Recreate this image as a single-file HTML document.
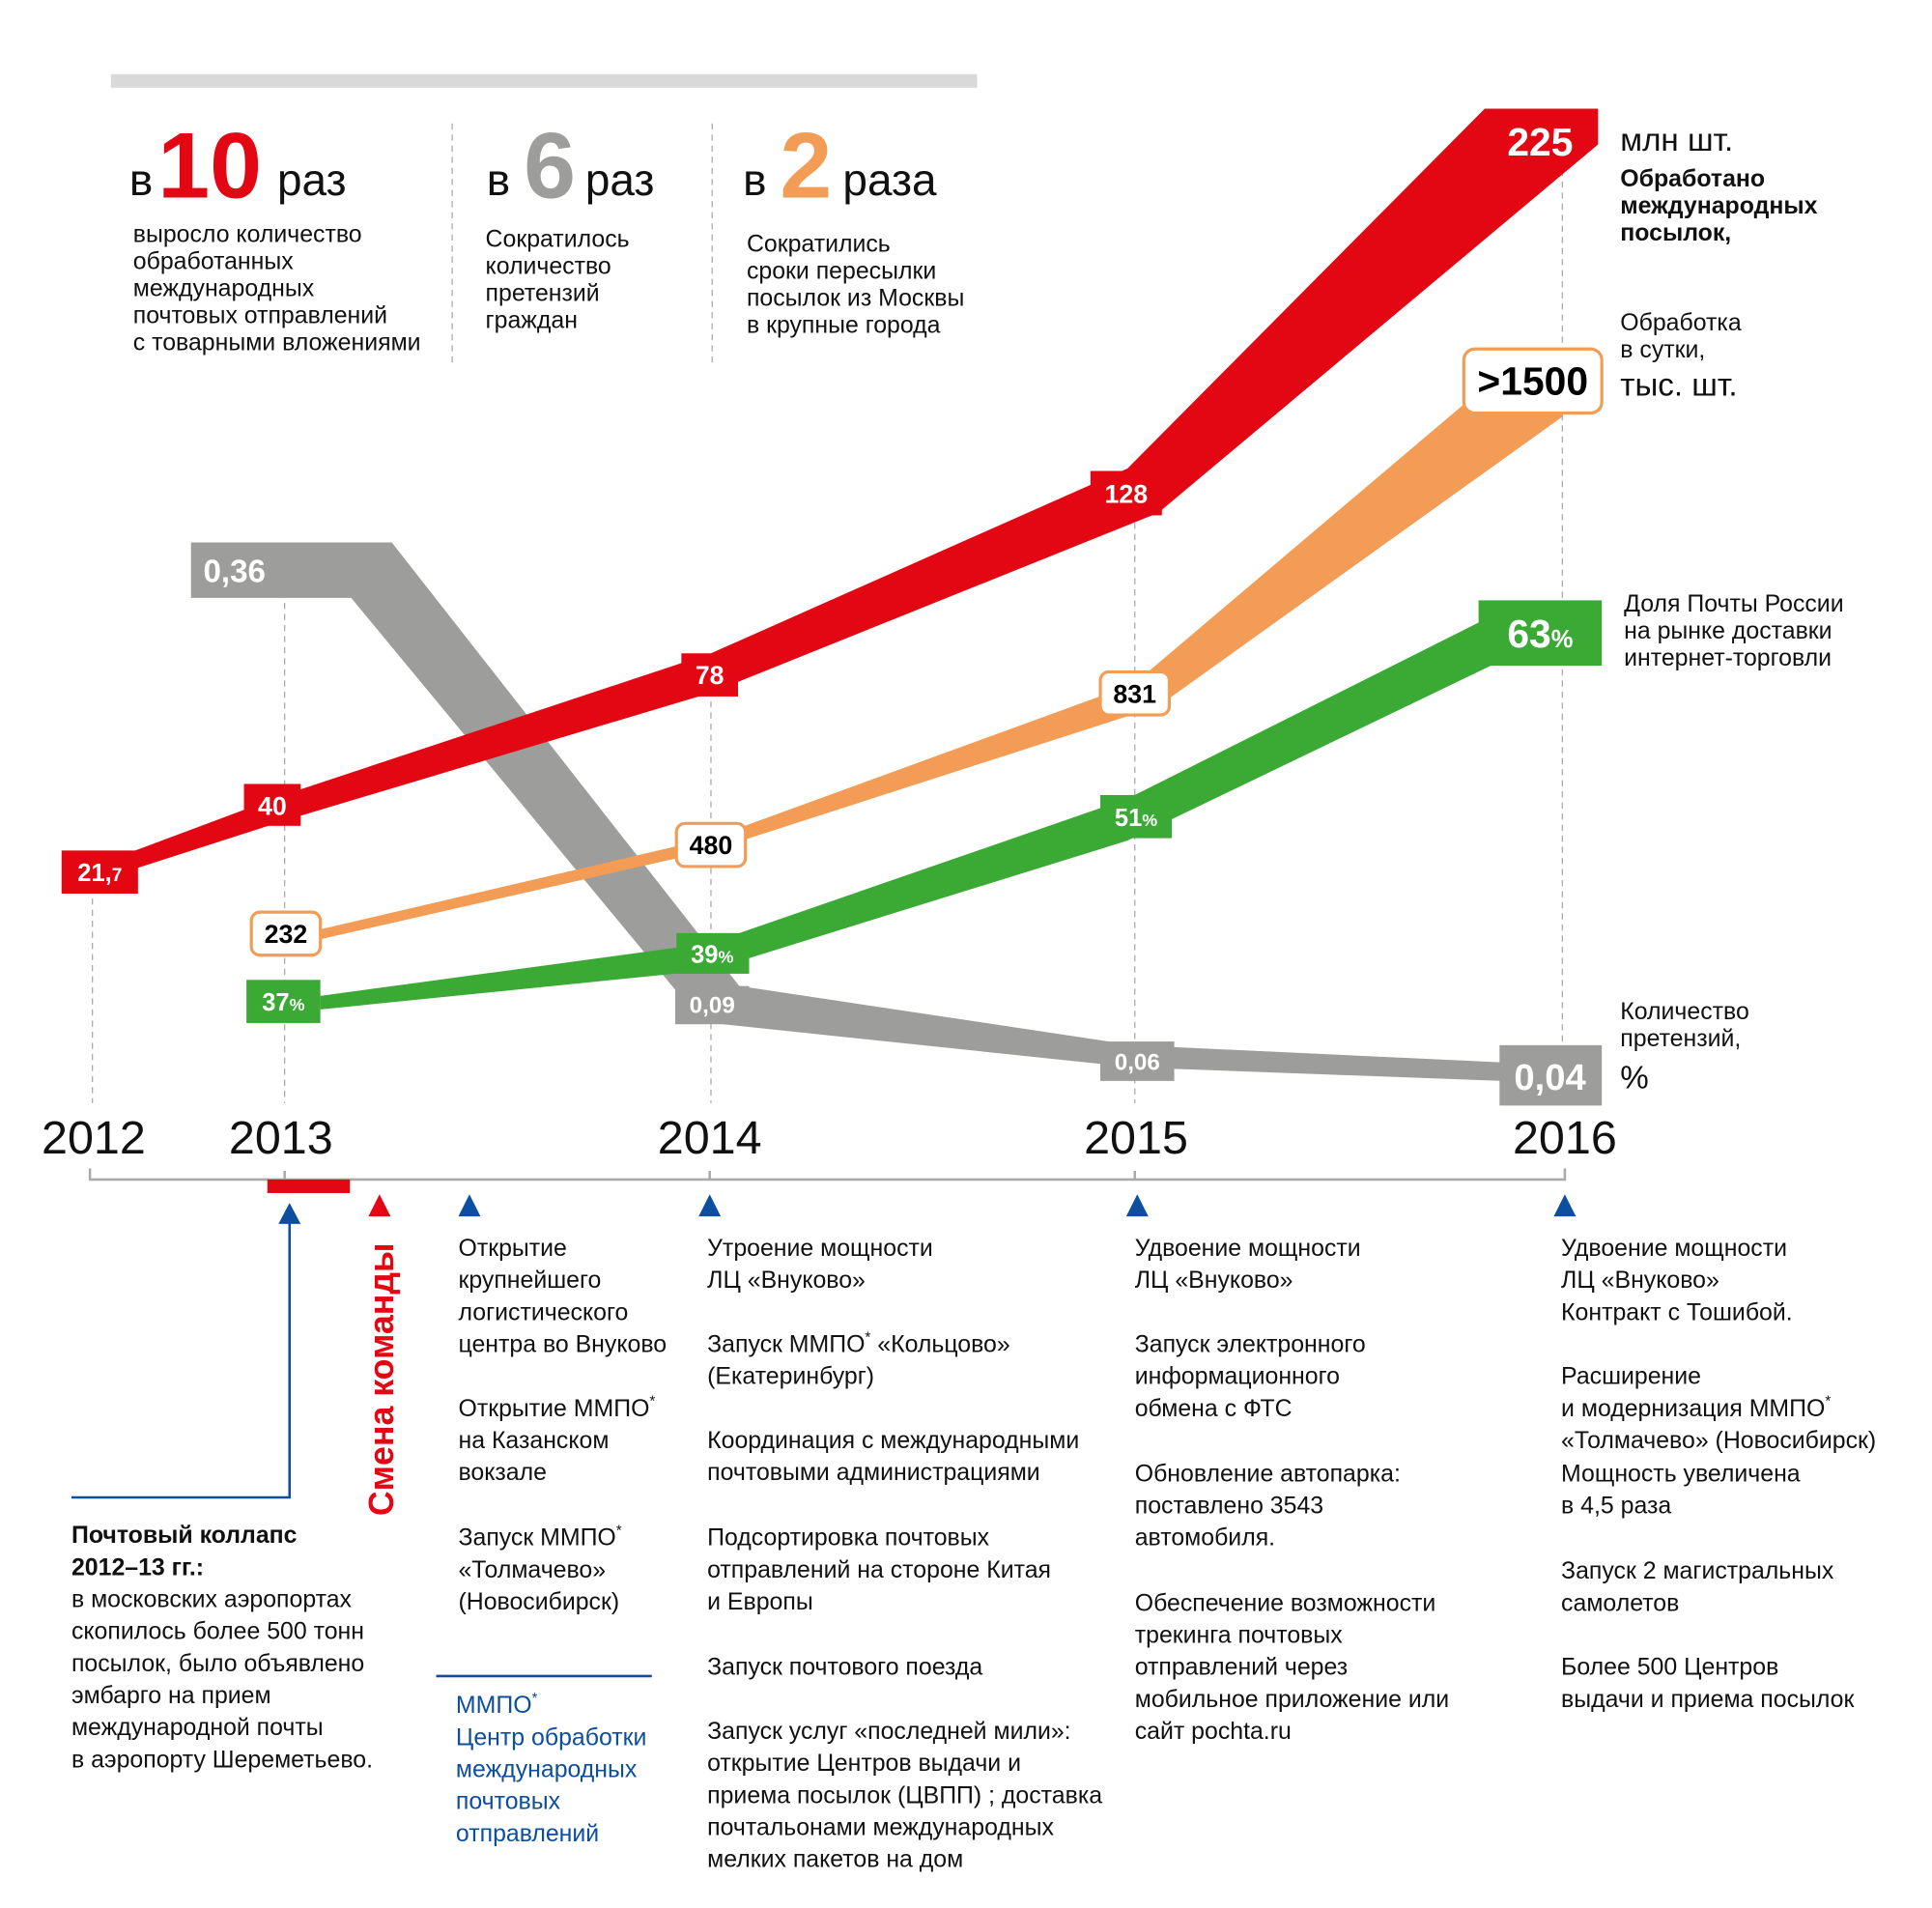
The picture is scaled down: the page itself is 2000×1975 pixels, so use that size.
<!DOCTYPE html>
<html><head><meta charset="utf-8"><style>
html,body{margin:0;padding:0;background:#fff}
svg{display:block}
text{font-family:"Liberation Sans Narrow","Liberation Sans",sans-serif}
.t{font-size:19.5px;fill:#111}
.b{font-weight:bold}
.w{fill:#fff;font-weight:bold;font-family:"Liberation Sans","DejaVu Sans",sans-serif}
</style></head><body>
<svg width="2000" height="1975" viewBox="0 0 1568 1548" xmlns="http://www.w3.org/2000/svg">
<rect x="90" y="60" width="703" height="11" fill="#d9d9d9"/>
<text x="105" y="158" font-size="36" fill="#111">в</text>
<text x="128" y="160" font-size="76" fill="#e30613" font-weight="bold" font-family="Liberation Sans">10</text>
<text x="225" y="158" font-size="36" fill="#111">раз</text>
<text x="395" y="158" font-size="36" fill="#111">в</text>
<text x="425" y="160" font-size="76" fill="#9d9d9c" font-weight="bold" font-family="Liberation Sans">6</text>
<text x="475" y="158" font-size="36" fill="#111">раз</text>
<text x="603" y="158" font-size="36" fill="#111">в</text>
<text x="633" y="160" font-size="76" fill="#f39c55" font-weight="bold" font-family="Liberation Sans">2</text>
<text x="684" y="158" font-size="36" fill="#111">раза</text>
<line x1="367" y1="100" x2="367" y2="295" stroke="#aaa" stroke-dasharray="5,4"/>
<line x1="578" y1="100" x2="578" y2="295" stroke="#aaa" stroke-dasharray="5,4"/>
<g class="t">
<text x="108" y="196">выросло количество</text><text x="108" y="218">обработанных</text><text x="108" y="240">международных</text><text x="108" y="262">почтовых отправлений</text><text x="108" y="284">с товарными вложениями</text>
<text x="394" y="200">Сократилось</text><text x="394" y="222">количество</text><text x="394" y="244">претензий</text><text x="394" y="266">граждан</text>
<text x="606" y="204">Сократились</text><text x="606" y="226">сроки пересылки</text><text x="606" y="248">посылок из Москвы</text><text x="606" y="270">в крупные города</text>
</g>
<g stroke="#aaa" stroke-dasharray="5,4">
<line x1="75" y1="720" x2="75" y2="895"/><line x1="231" y1="480" x2="231" y2="895"/>
<line x1="577" y1="560" x2="577" y2="895"/><line x1="921" y1="415" x2="921" y2="895"/>
<line x1="1268" y1="120" x2="1268" y2="895"/>
</g>
<polygon fill="#9d9d9c" points="155,440 318,440 600,800 920,848 1220,862 1220,877 920,866 577,830 548,803 285,485 155,485"/>
<polygon fill="#f39c55" points="260,754 577,680 920,555 1195,322 1268,322 1268,338 940,573 577,690 260,762"/>
<polygon fill="#3aaa35" points="260,808 577,765 915,648 1210,500 1210,540 915,682 577,787 260,819"/>
<polygon fill="#e30613" points="75,703 230,645 577,530 915,380 1205,88 1297,88 1297,117 940,416 577,562 230,666 75,716"/>
<rect x="50" y="690" width="62" height="35" fill="#e30613"/><text class="w" x="81" y="715" font-size="20" text-anchor="middle">21,<tspan font-size="15">7</tspan></text>
<rect x="198" y="636" width="46" height="34" fill="#e30613"/><text class="w" x="221" y="661" font-size="21" text-anchor="middle">40</text>
<rect x="553" y="530" width="46" height="35" fill="#e30613"/><text class="w" x="576" y="555" font-size="21" text-anchor="middle">78</text>
<rect x="885" y="382" width="58" height="36" fill="#e30613"/><text class="w" x="914" y="408" font-size="21" text-anchor="middle">128</text>
<text class="w" x="1250" y="126" font-size="32" text-anchor="middle">225</text>
<text class="w" x="165" y="472" font-size="26">0,36</text>
<rect x="548" y="800" width="60" height="31" fill="#9d9d9c"/><text class="w" x="578" y="822" font-size="19" text-anchor="middle">0,09</text>
<rect x="893" y="845" width="60" height="32" fill="#9d9d9c"/><text class="w" x="923" y="868" font-size="19" text-anchor="middle">0,06</text>
<rect x="1217" y="848" width="83" height="49" fill="#9d9d9c"/><text class="w" x="1258" y="884" font-size="30" text-anchor="middle">0,04</text>
<rect x="204" y="740" width="56" height="35" rx="7" fill="#fff" stroke="#f39c55" stroke-width="2.5"/><text x="232" y="765" font-size="21" font-weight="bold" text-anchor="middle" font-family="Liberation Sans">232</text>
<rect x="549" y="668" width="56" height="35" rx="7" fill="#fff" stroke="#f39c55" stroke-width="2.5"/><text x="577" y="693" font-size="21" font-weight="bold" text-anchor="middle" font-family="Liberation Sans">480</text>
<rect x="893" y="545" width="56" height="35" rx="7" fill="#fff" stroke="#f39c55" stroke-width="2.5"/><text x="921" y="570" font-size="21" font-weight="bold" text-anchor="middle" font-family="Liberation Sans">831</text>
<rect x="1188" y="283" width="112" height="52" rx="9" fill="#fff" stroke="#f39c55" stroke-width="2.5"/><text x="1244" y="320" font-size="32" font-weight="bold" text-anchor="middle" font-family="Liberation Sans">&gt;1500</text>
<rect x="200" y="795" width="60" height="35" fill="#3aaa35"/><text class="w" x="230" y="820" font-size="20" text-anchor="middle">37<tspan font-size="14">%</tspan></text>
<rect x="549" y="757" width="59" height="33" fill="#3aaa35"/><text class="w" x="578" y="781" font-size="20" text-anchor="middle">39<tspan font-size="14">%</tspan></text>
<rect x="893" y="645" width="58" height="35" fill="#3aaa35"/><text class="w" x="922" y="670" font-size="20" text-anchor="middle">51<tspan font-size="14">%</tspan></text>
<rect x="1200" y="487" width="100" height="53" fill="#3aaa35"/><text class="w" x="1250" y="525" font-size="32" text-anchor="middle">63<tspan font-size="20">%</tspan></text>
<text x="1315" y="122" font-size="26" fill="#111">млн шт.</text>
<g class="t b" font-size="19"><text x="1315" y="151">Обработано</text><text x="1315" y="173">международных</text><text x="1315" y="195">посылок,</text></g>
<g class="t"><text x="1315" y="268">Обработка</text><text x="1315" y="290">в сутки,</text></g>
<text x="1315" y="321" font-size="26" fill="#111">тыс. шт.</text>
<g class="t"><text x="1318" y="496">Доля Почты России</text><text x="1318" y="518">на рынке доставки</text><text x="1318" y="540">интернет-торговли</text>
<text x="1315" y="827">Количество</text><text x="1315" y="849">претензий,</text></g>
<text x="1315" y="883" font-size="26" fill="#111">%</text>
<g font-size="38" fill="#111" text-anchor="middle">
<text x="76" y="936">2012</text><text x="228" y="936">2013</text><text x="576" y="936">2014</text><text x="922" y="936">2015</text><text x="1270" y="936">2016</text></g>
<path d="M73,948 V957 H1270 V948" fill="none" stroke="#aaa" stroke-width="2"/>
<line x1="231" y1="950" x2="231" y2="957" stroke="#aaa" stroke-width="2"/>
<line x1="576" y1="950" x2="576" y2="957" stroke="#aaa" stroke-width="2"/>
<line x1="921" y1="950" x2="921" y2="957" stroke="#aaa" stroke-width="2"/>
<rect x="217" y="957" width="67" height="11" fill="#e30613"/>
<g fill="#0d4ea0">
<polygon points="235,976 226,993 244,993"/><polygon points="381,969 372,987 390,987"/>
<polygon points="576,969 567,987 585,987"/><polygon points="923,969 914,987 932,987"/><polygon points="1270,969 1261,987 1279,987"/></g>
<polygon fill="#e30613" points="308,969 299,987 317,987"/>
<path d="M235,990 V1215 H58" fill="none" stroke="#0d4ea0" stroke-width="2"/>
<text transform="translate(319,1230) rotate(-90)" font-size="28" font-weight="bold" fill="#e30613" font-family="Liberation Sans">Смена команды</text>
<g class="t">
<text x="58" y="1252" class="b">Почтовый коллапс</text><text x="58" y="1278" class="b">2012–13 гг.:</text>
<text x="58" y="1304">в московских аэропортах</text><text x="58" y="1330">скопилось более 500 тонн</text><text x="58" y="1356">посылок, было объявлено</text><text x="58" y="1382">эмбарго на прием</text><text x="58" y="1408">международной почты</text><text x="58" y="1434">в аэропорту Шереметьево.</text>
<text x="372" y="1019">Открытие</text><text x="372" y="1045">крупнейшего</text><text x="372" y="1071">логистического</text><text x="372" y="1097">центра во Внуково</text>
<text x="372" y="1149">Открытие ММПО<tspan font-size="12" dy="-8">*</tspan></text><text x="372" y="1175">на Казанском</text><text x="372" y="1201">вокзале</text>
<text x="372" y="1254">Запуск ММПО<tspan font-size="12" dy="-8">*</tspan></text><text x="372" y="1280">«Толмачево»</text><text x="372" y="1306">(Новосибирск)</text>
<text x="574" y="1019">Утроение мощности</text><text x="574" y="1045">ЛЦ «Внуково»</text>
<text x="574" y="1097">Запуск ММПО<tspan font-size="12" dy="-8">*</tspan><tspan dy="8"> «Кольцово»</tspan></text><text x="574" y="1123">(Екатеринбург)</text>
<text x="574" y="1175">Координация с международными</text><text x="574" y="1201">почтовыми администрациями</text>
<text x="574" y="1254">Подсортировка почтовых</text><text x="574" y="1280">отправлений на стороне Китая</text><text x="574" y="1306">и Европы</text>
<text x="574" y="1359">Запуск почтового поезда</text>
<text x="574" y="1411">Запуск услуг «последней мили»:</text><text x="574" y="1437">открытие Центров выдачи и</text><text x="574" y="1463">приема посылок (ЦВПП) ; доставка</text><text x="574" y="1489">почтальонами международных</text><text x="574" y="1515">мелких пакетов на дом</text>
<text x="921" y="1019">Удвоение мощности</text><text x="921" y="1045">ЛЦ «Внуково»</text>
<text x="921" y="1097">Запуск электронного</text><text x="921" y="1123">информационного</text><text x="921" y="1149">обмена с ФТС</text>
<text x="921" y="1202">Обновление автопарка:</text><text x="921" y="1228">поставлено 3543</text><text x="921" y="1254">автомобиля.</text>
<text x="921" y="1307">Обеспечение возможности</text><text x="921" y="1333">трекинга почтовых</text><text x="921" y="1359">отправлений через</text><text x="921" y="1385">мобильное приложение или</text><text x="921" y="1411">сайт pochta.ru</text>
<text x="1267" y="1019">Удвоение мощности</text><text x="1267" y="1045">ЛЦ «Внуково»</text><text x="1267" y="1071">Контракт с Тошибой.</text>
<text x="1267" y="1123">Расширение</text><text x="1267" y="1149">и модернизация ММПО<tspan font-size="12" dy="-8">*</tspan></text><text x="1267" y="1175">«Толмачево» (Новосибирск)</text><text x="1267" y="1202">Мощность увеличена</text><text x="1267" y="1228">в 4,5 раза</text>
<text x="1267" y="1281">Запуск 2 магистральных</text><text x="1267" y="1307">самолетов</text>
<text x="1267" y="1359">Более 500 Центров</text><text x="1267" y="1385">выдачи и приема посылок</text>
</g>
<line x1="354" y1="1360" x2="529" y2="1360" stroke="#0d4ea0" stroke-width="2"/>
<g font-size="19.5" fill="#0d4ea0">
<text x="370" y="1390">ММПО<tspan font-size="12" dy="-8">*</tspan></text><text x="370" y="1416">Центр обработки</text><text x="370" y="1442">международных</text><text x="370" y="1468">почтовых</text><text x="370" y="1494">отправлений</text></g>
</svg>
</body></html>
